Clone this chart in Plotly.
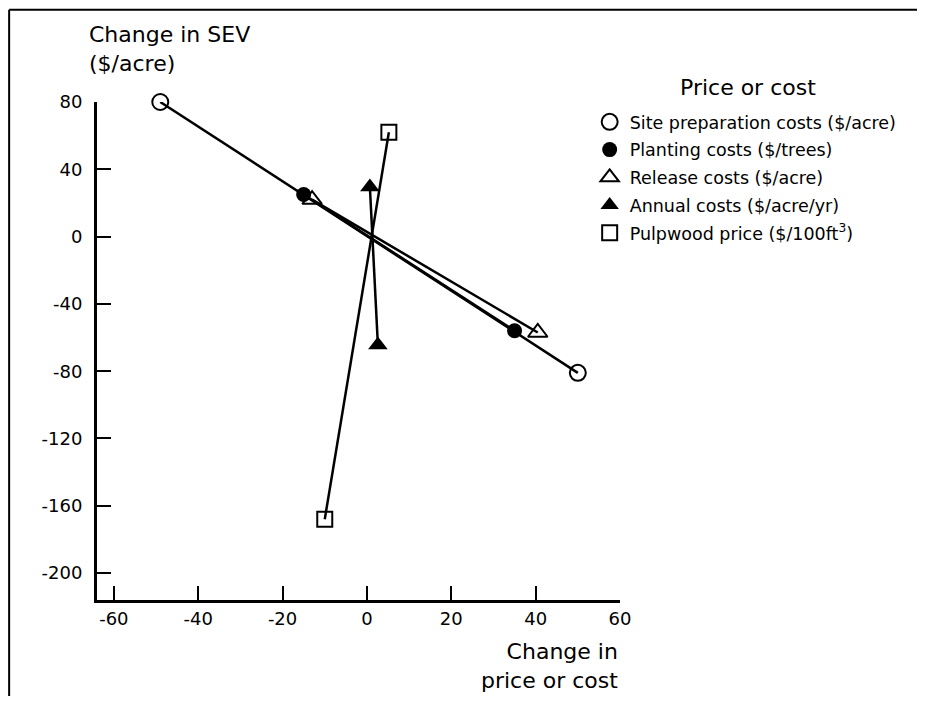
import plotly.graph_objects as go

# Data: (change in price/cost, change in SEV)
series_names = [
    "Site preparation costs ($/acre)",
    "Planting costs ($/trees)",
    "Release costs ($/acre)",
    "Annual costs ($/acre/yr)",
    "Pulpwood price ($/100ft<sup>3</sup>)",
]
site_prep_x = [-49, 50]
site_prep_y = [80, -81]
planting_x = [-15, 35]
planting_y = [25, -56]
release_x = [-13, 40.5]
release_y = [22, -57]
annual_x = [0.7, 2.6]
annual_y = [29.5, -64.5]
pulpwood_x = [5.2, -10]
pulpwood_y = [62, -168]

x_ticks = [-60, -40, -20, 0, 20, 40, 60]
y_ticks = [80, 40, 0, -40, -80, -120, -160, -200]

FONT = "DejaVu Sans"
BLACK = "#000000"

styles = [
    dict(symbol="circle-open", size=16, line=dict(width=2, color=BLACK), color=BLACK),
    dict(symbol="circle", size=15, color=BLACK, line=dict(width=0)),
    dict(symbol="triangle-up-open", size=17, line=dict(width=2, color=BLACK), color=BLACK),
    dict(symbol="triangle-up", size=17, color=BLACK, line=dict(width=0)),
    dict(symbol="square-open", size=15, line=dict(width=2, color=BLACK), color=BLACK),
]
xs = [site_prep_x, planting_x, release_x, annual_x, pulpwood_x]
ys = [site_prep_y, planting_y, release_y, annual_y, pulpwood_y]

fig = go.Figure()
for x, y in zip(xs, ys):
    fig.add_trace(go.Scatter(x=x, y=y, mode="lines", line=dict(color=BLACK, width=2.5),
                             showlegend=False, hoverinfo="skip", cliponaxis=False))
for i, (name, x, y, st) in enumerate(zip(series_names, xs, ys, styles)):
    fig.add_trace(go.Scatter(x=x, y=y, mode="markers", name=name, marker=dict(st),
                             legendgroup=f"g{i}", cliponaxis=False))

fig.update_layout(
    width=909, height=688,
    margin=dict(l=89, r=297, t=94, b=96),
    paper_bgcolor="white", plot_bgcolor="white",
    font=dict(family=FONT, size=17, color=BLACK),
    showlegend=True,
    legend=dict(
        x=0.942, y=0.996, xanchor="left", yanchor="top",
        font=dict(size=17.5), bgcolor="rgba(0,0,0,0)", tracegroupgap=2,
        itemwidth=30, borderwidth=0,
    ),
    xaxis=dict(
        range=[-64, 60], tickvals=x_ticks, ticktext=[str(v) for v in x_ticks],
        ticks="inside", ticklen=14, tickwidth=2, tickcolor=BLACK,
        showline=True, linewidth=3, linecolor=BLACK, showgrid=False, zeroline=False,
        tickfont=dict(size=18),
    ),
    yaxis=dict(
        range=[-216, 80], tickvals=y_ticks, ticktext=[str(v) for v in y_ticks],
        ticks="inside", ticklen=14, tickwidth=2, tickcolor=BLACK,
        showline=True, linewidth=3, linecolor=BLACK, showgrid=False, zeroline=False,
        tickfont=dict(size=18), ticklabelstandoff=8,
    ),
    annotations=[
        dict(text="Change in SEV<br>($/acre)", xref="paper", yref="paper",
             x=-0.019, y=1.165, xanchor="left", yanchor="top", showarrow=False,
             align="left", font=dict(size=22)),
        dict(text="Change in<br>price or cost", xref="paper", yref="paper",
             x=1.0, y=-0.075, xanchor="right", yanchor="top", showarrow=False,
             align="right", font=dict(size=22)),
        dict(text="Price or cost", xref="paper", yref="paper",
             x=1.245, y=1.03, xanchor="center", yanchor="middle", showarrow=False,
             font=dict(size=22)),
    ],
    shapes=[
        dict(type="line", xref="paper", yref="paper", x0=-0.168, x1=1.6, y0=1.185, y1=1.185,
             line=dict(color=BLACK, width=2)),
        dict(type="line", xref="paper", yref="paper", x0=-0.168, x1=-0.168, y0=1.185, y1=-0.3,
             line=dict(color=BLACK, width=2)),
    ],
)

fig.write_html("out.html")
